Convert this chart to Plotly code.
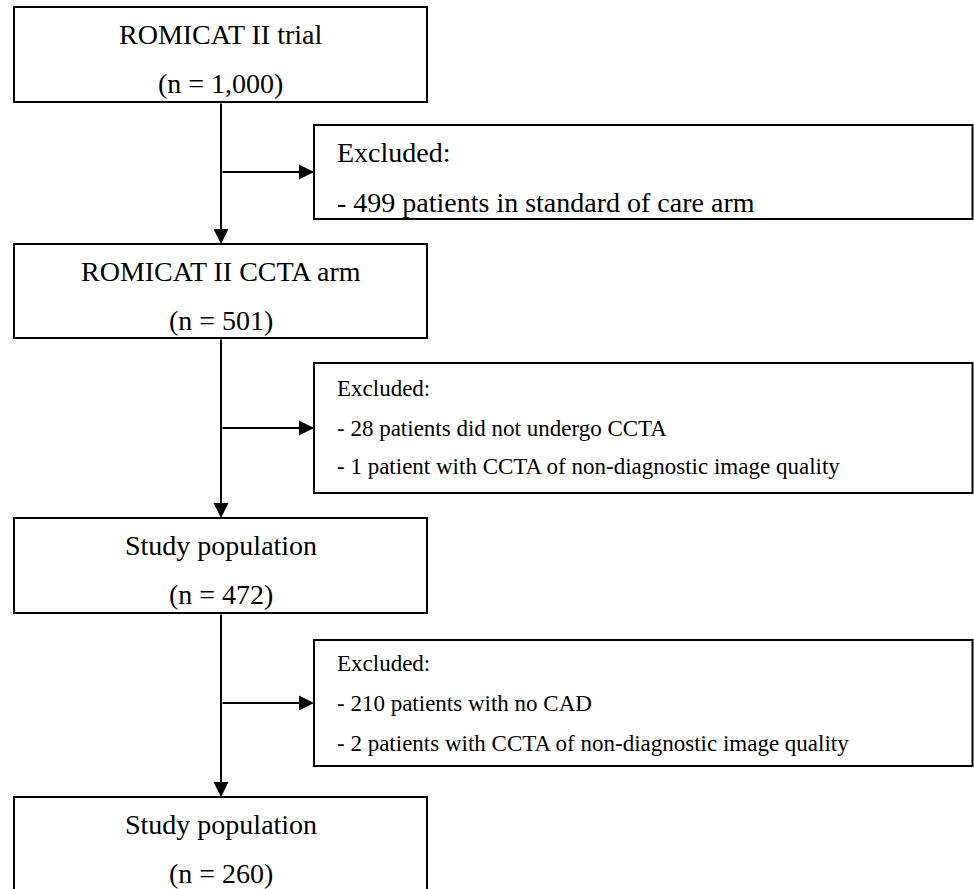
import plotly.graph_objects as go

# ---- data (texts and counts) ----
stage_titles = ["ROMICAT II trial", "ROMICAT II CCTA arm", "Study population", "Study population"]
stage_counts = ["1,000", "501", "472", "260"]
excl_header = "Excluded:"
excl_items = [
    ["- 499 patients in standard of care arm"],
    ["- 28 patients did not undergo CCTA", "- 1 patient with CCTA of non-diagnostic image quality"],
    ["- 210 patients with no CAD", "- 2 patients with CCTA of non-diagnostic image quality"],
]

# ---- layout geometry (page pixel space) ----
W, H = 974, 889
main_x0, main_x1 = 14, 427
main_boxes_y = [(7, 102), (244, 338), (518, 613), (797, 892)]
excl_x0, excl_x1 = 314, 972.5
excl_boxes_y = [(125, 219), (363, 493), (640, 766)]
stem_x = 221
branch_y = [172, 428, 703]
excl_text_x = 335
excl_text_rows = [[152, 202], [388, 428, 466], [663, 703, 743]]
excl_font = [28, 23, 23]
FONT = "Liberation Serif, Times New Roman, serif"
LW = 2

fig = go.Figure()
shapes = []
ann = []

for (y0, y1), title, cnt in zip(main_boxes_y, stage_titles, stage_counts):
    shapes.append(dict(type="rect", x0=main_x0, x1=main_x1, y0=y0, y1=y1,
                       line=dict(color="black", width=LW), fillcolor="white", layer="above"))
    cx = (main_x0 + main_x1) / 2
    ann.append(dict(x=cx, y=y0 + 27, text=title, showarrow=False, xanchor="center", yanchor="middle",
                    font=dict(family=FONT, size=28, color="black")))
    ann.append(dict(x=cx, y=y0 + 76, text=f"(n = {cnt})", showarrow=False, xanchor="center", yanchor="middle",
                    font=dict(family=FONT, size=28, color="black")))

for (y0, y1), items, rows, fs in zip(excl_boxes_y, excl_items, excl_text_rows, excl_font):
    shapes.append(dict(type="rect", x0=excl_x0, x1=excl_x1, y0=y0, y1=y1,
                       line=dict(color="black", width=LW), fillcolor="white", layer="above"))
    for txt, yy in zip([excl_header] + items, rows):
        ann.append(dict(x=excl_text_x, y=yy, text=txt, showarrow=False, xanchor="left", yanchor="middle",
                        font=dict(family=FONT, size=fs, color="black")))

for i in range(3):
    ann.append(dict(x=stem_x, y=main_boxes_y[i + 1][0], ax=stem_x, ay=main_boxes_y[i][1],
                    xref="x", yref="y", axref="x", ayref="y", text="", showarrow=True,
                    arrowhead=2, arrowsize=1.5, arrowwidth=LW, arrowcolor="black", standoff=0))
    ann.append(dict(x=excl_x0, y=branch_y[i], ax=stem_x, ay=branch_y[i],
                    xref="x", yref="y", axref="x", ayref="y", text="", showarrow=True,
                    arrowhead=2, arrowsize=1.5, arrowwidth=LW, arrowcolor="black", standoff=0))

fig.update_layout(
    width=W, height=H, margin=dict(l=0, r=0, t=0, b=0),
    paper_bgcolor="white", plot_bgcolor="white",
    xaxis=dict(range=[0, W], visible=False, fixedrange=True),
    yaxis=dict(range=[H, 0], visible=False, fixedrange=True),
    shapes=shapes, annotations=ann, showlegend=False,
)
fig.write_html("out.html", config={"displayModeBar": False},
               post_script="document.body.style.margin='0';document.body.style.overflow='hidden';")
